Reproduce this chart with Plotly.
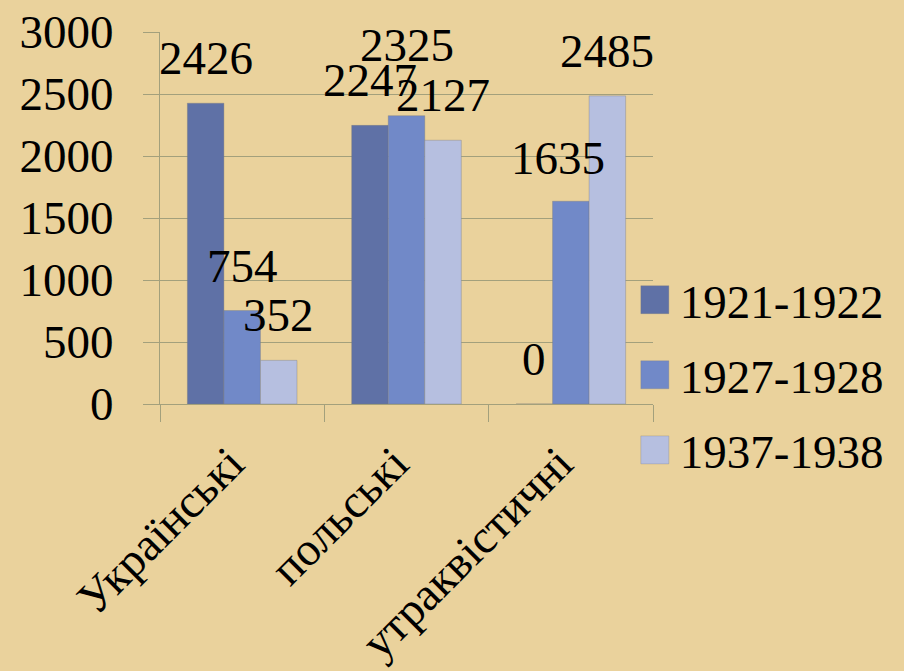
import plotly.graph_objects as go

categories = ["Українські", "польські", "утраквістичні"]
series_names = ["1921-1922", "1927-1928", "1937-1938"]
values_1921 = [2426, 2247, 0]
values_1927 = [754, 2325, 1635]
values_1937 = [352, 2127, 2485]
y_ticks = [0, 500, 1000, 1500, 2000, 2500, 3000]

series_values = [values_1921, values_1927, values_1937]
colors = ["#5f71a6", "#7189c8", "#b6bfe0"]

FONT = "Liberation Serif"
FS = 47
GRID = "#a3a07c"
W, H = 904, 671
ML, MR, MT, MB = 160, 251, 32, 267
BARGAP = 0.333

fig = go.Figure()
for name, vals, col in zip(series_names, series_values, colors):
    fig.add_trace(go.Bar(
        x=categories, y=vals, name=name, legendgroup=name,
        marker=dict(color=col, line=dict(color="rgba(120,120,120,0.45)", width=0.8)),
        hoverinfo="skip",
    ))

# data labels above each bar, computed from the data and the bar layout
plot_w = W - ML - MR
bar_px = plot_w / len(categories) * (1 - BARGAP) / len(series_names)
# (series, category) -> (dx, dy) manual label nudges as in the original slide
label_nudge = {(1, 1): (0, 26), (1, 2): (-13, -2)}
annotations = []
for i, vals in enumerate(series_values):
    for j, (cat, v) in enumerate(zip(categories, vals)):
        dx, dy = label_nudge.get((i, j), (0, 0))
        annotations.append(dict(
            x=cat, y=v, xref="x", yref="y", text=str(v), showarrow=False,
            xanchor="center", yanchor="bottom",
            xshift=(i - (len(series_names) - 1) / 2) * bar_px + dx,
            yshift=17 + dy,
            font=dict(family=FONT, size=FS, color="black"),
        ))

fig.update_layout(
    width=W, height=H,
    margin=dict(l=ML, r=MR, t=MT, b=MB, pad=0, autoexpand=False),
    paper_bgcolor="#ead29c", plot_bgcolor="rgba(0,0,0,0)",
    font=dict(family=FONT, size=FS, color="black"),
    barmode="group", bargap=BARGAP, bargroupgap=0,
    showlegend=True,
    legend=dict(
        x=0.953, y=0.38, xanchor="left", yanchor="top",
        font=dict(family=FONT, size=FS, color="black"),
        itemwidth=40, tracegroupgap=11, bgcolor="rgba(0,0,0,0)",
    ),
    annotations=annotations,
)
fig.update_yaxes(
    range=[0, 3000], tickvals=y_ticks, ticktext=[str(t) for t in y_ticks],
    showgrid=True, gridcolor=GRID, gridwidth=1,
    showline=True, linecolor=GRID, linewidth=1,
    ticks="outside", ticklen=16, tickcolor=GRID, tickwidth=1,
    ticklabelstandoff=20, zeroline=False,
    tickfont=dict(family=FONT, size=FS, color="black"),
)
fig.update_xaxes(
    range=[-0.5, len(categories) - 0.5],
    showgrid=False, showline=True, linecolor=GRID, linewidth=1,
    ticks="outside", tickson="boundaries", ticklen=17, tickcolor=GRID, tickwidth=1,
    tickangle=-45, ticklabelstandoff=12, ticklabelshift=-12,
    tickfont=dict(family=FONT, size=FS, color="black"),
)

post = """
document.body.style.margin = '0';
document.querySelectorAll('.legendpoints path').forEach(function(p){
  p.setAttribute('d', 'M14,14H-14V-14H14Z');
  p.style.strokeWidth = '1px';
  p.style.stroke = 'rgba(120,120,120,0.6)';
});
"""
fig.write_html("out.html", post_script=post, config={"displayModeBar": False})
